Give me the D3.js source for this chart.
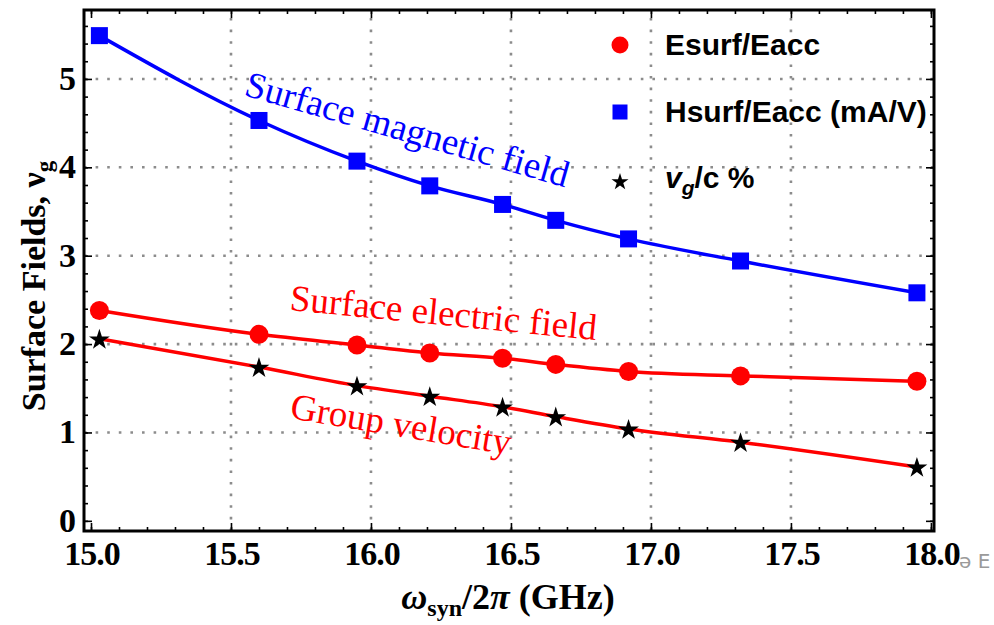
<!DOCTYPE html>
<html>
<head>
<meta charset="utf-8">
<script src="https://cdn.jsdelivr.net/npm/d3@7"></script>
<style>
  html, body { margin: 0; padding: 0; background: #fff; }
  svg { display: block; }
</style>
</head>
<body>
<div id="chart"></div>
<script>
// Data
const freq = [15.03, 15.60, 15.95, 16.21, 16.47, 16.66, 16.92, 17.32, 17.95];
const hsurf = [5.49, 4.53, 4.07, 3.79, 3.58, 3.40, 3.19, 2.94, 2.58];
const esurf = [2.38, 2.11, 1.99, 1.90, 1.84, 1.77, 1.69, 1.64, 1.58];
const vg = [2.06, 1.74, 1.53, 1.41, 1.29, 1.18, 1.04, 0.89, 0.61];

const xTicks = [15.0, 15.5, 16.0, 16.5, 17.0, 17.5, 18.0];
const yTicks = [0, 1, 2, 3, 4, 5];

const [w, h] = [994, 625];
const [padLeft, padRight, padTop, padBottom] = [84, 934, 10, 531];
const [blue, red] = ["#0000ff", "#ff0000"];

const x = d3.scaleLinear().domain([14.975, 18.011]).range([padLeft, padRight]);
const y = d3.scaleLinear().domain([-0.115, 5.78]).range([padBottom, padTop]);

const svg = d3.select("#chart")
    .append("svg")
    .attr("width", w)
    .attr("height", h);

// dotted grid
const grid = svg.append("g")
    .attr("stroke", "#8c8c8c")
    .attr("stroke-width", 2.6)
    .attr("stroke-dasharray", "2.6,9");

grid.selectAll("line.vx")
    .data(xTicks.slice(1, -1))
    .enter()
    .append("line")
    .attr("x1", d => x(d)).attr("x2", d => x(d))
    .attr("y1", padBottom).attr("y2", padTop);

grid.selectAll("line.hy")
    .data(yTicks.slice(1))
    .enter()
    .append("line")
    .attr("x1", padLeft).attr("x2", padRight)
    .attr("y1", d => y(d)).attr("y2", d => y(d));

// frame ticks on all four sides, pointing inward
const xMinor = d3.range(150, 181).map(d => d / 10);
const yMinor = d3.range(0, 29).map(d => d / 5);

function tickAxis(axis, scale, values, size) {
    return axis(scale).tickValues(values).tickSize(-size).tickFormat("");
}

svg.append("g").attr("transform", `translate(0,${padBottom})`)
    .call(tickAxis(d3.axisBottom, x, xMinor, 4));
svg.append("g").attr("transform", `translate(0,${padBottom})`)
    .call(tickAxis(d3.axisBottom, x, xTicks, 8));
svg.append("g").attr("transform", `translate(0,${padTop})`)
    .call(tickAxis(d3.axisTop, x, xMinor, 4));
svg.append("g").attr("transform", `translate(0,${padTop})`)
    .call(tickAxis(d3.axisTop, x, xTicks, 8));
svg.append("g").attr("transform", `translate(${padLeft},0)`)
    .call(tickAxis(d3.axisLeft, y, yMinor, 4));
svg.append("g").attr("transform", `translate(${padLeft},0)`)
    .call(tickAxis(d3.axisLeft, y, yTicks, 8));
svg.append("g").attr("transform", `translate(${padRight},0)`)
    .call(tickAxis(d3.axisRight, y, yMinor, 4));
svg.append("g").attr("transform", `translate(${padRight},0)`)
    .call(tickAxis(d3.axisRight, y, yTicks, 8));

svg.selectAll(".domain").remove();
svg.selectAll(".tick line").attr("stroke", "#000").attr("stroke-width", 1.6);

// frame
svg.append("rect")
    .attr("x", padLeft).attr("y", padTop)
    .attr("width", padRight - padLeft).attr("height", padBottom - padTop)
    .attr("fill", "none")
    .attr("stroke", "#000")
    .attr("stroke-width", 3);

// tick labels
svg.selectAll("text.xl")
    .data(xTicks)
    .enter()
    .append("text")
    .attr("x", d => x(d) + 1)
    .attr("y", 565)
    .attr("text-anchor", "middle")
    .style("font-family", "'Liberation Serif', serif")
    .style("font-weight", "bold")
    .style("font-size", "34px")
    .style("letter-spacing", "-1px")
    .text(d => d.toFixed(1));

svg.selectAll("text.yl")
    .data(yTicks)
    .enter()
    .append("text")
    .attr("x", 76)
    .attr("y", d => y(d) + 11)
    .attr("text-anchor", "end")
    .style("font-family", "'Liberation Serif', serif")
    .style("font-weight", "bold")
    .style("font-size", "34px")
    .text(d => d);

// axis titles
const xTitle = svg.append("text")
    .attr("x", 508)
    .attr("y", 609)
    .attr("text-anchor", "middle")
    .style("font-family", "'Liberation Serif', serif")
    .style("font-weight", "bold")
    .style("font-size", "36px");
xTitle.append("tspan").style("font-style", "italic").text("ω");
xTitle.append("tspan").attr("dy", 7).style("font-size", "24px").text("syn");
xTitle.append("tspan").attr("dy", -7).text("/2");
xTitle.append("tspan").style("font-style", "italic").text("π");
xTitle.append("tspan").text(" (GHz)");

const yTitle = svg.append("text")
    .attr("transform", "translate(45,286) rotate(-90)")
    .attr("text-anchor", "middle")
    .style("font-family", "'Liberation Serif', serif")
    .style("font-weight", "bold")
    .style("font-size", "34px");
yTitle.append("tspan").text("Surface Fields, ν");
yTitle.append("tspan").attr("dy", 7).style("font-size", "23px").text("g");

// lines
const line = vals => d3.line()
    .x((d, i) => x(freq[i]))
    .y(d => y(d))
    .curve(d3.curveMonotoneX)(vals);

svg.append("path").attr("d", line(hsurf))
    .attr("fill", "none").attr("stroke", blue).attr("stroke-width", 3.5);
svg.append("path").attr("d", line(esurf))
    .attr("fill", "none").attr("stroke", red).attr("stroke-width", 3.5);
svg.append("path").attr("d", line(vg))
    .attr("fill", "none").attr("stroke", red).attr("stroke-width", 3.5);

// markers
svg.selectAll("rect.hs")
    .data(hsurf)
    .enter()
    .append("rect")
    .attr("x", (d, i) => x(freq[i]) - 8.5)
    .attr("y", d => y(d) - 8.5)
    .attr("width", 17).attr("height", 17)
    .attr("fill", blue);

svg.selectAll("circle.es")
    .data(esurf)
    .enter()
    .append("circle")
    .attr("cx", (d, i) => x(freq[i]))
    .attr("cy", d => y(d))
    .attr("r", 9.5)
    .attr("fill", red);

const star = d3.symbol().type(d3.symbolStar);
svg.selectAll("path.vg")
    .data(vg)
    .enter()
    .append("path")
    .attr("d", star.size(135)())
    .attr("transform", (d, i) => `translate(${x(freq[i])},${y(d) + 1})`)
    .attr("fill", "#000");

// curve labels
function curveLabel(txt, px, py, angle, color) {
    svg.append("text")
        .attr("transform", `translate(${px},${py}) rotate(${angle})`)
        .style("font-family", "'Liberation Serif', serif")
        .style("font-size", "37px")
        .attr("fill", color)
        .text(txt);
}
curveLabel("Surface magnetic field", 243, 95, 16, blue);
curveLabel("Surface electric field", 289, 310, 5.6, red);
curveLabel("Group velocity", 289, 418, 9.5, red);

// legend
const legend = svg.append("g")
    .style("font-family", "'Liberation Sans', Arial, sans-serif")
    .style("font-weight", "bold")
    .style("font-size", "30px");

legend.append("circle").attr("cx", 620).attr("cy", 45).attr("r", 8.5).attr("fill", red);
legend.append("text").attr("x", 665).attr("y", 55).text("Esurf/Eacc");

legend.append("rect").attr("x", 612.5).attr("y", 104.5).attr("width", 15).attr("height", 15).attr("fill", blue);
legend.append("text").attr("x", 665).attr("y", 122).text("Hsurf/Eacc (mA/V)");

legend.append("path").attr("d", d3.symbol().type(d3.symbolStar).size(90)())
    .attr("transform", "translate(620,182)").attr("fill", "#000");
const vgText = legend.append("text").attr("x", 665).attr("y", 188);
vgText.append("tspan").style("font-style", "italic").text("v");
vgText.append("tspan").attr("dy", 7).style("font-style", "italic").style("font-size", "21px").text("g");
vgText.append("tspan").attr("dy", -7).text("/c %");

// clipped artifact text at the right edge
svg.append("text")
    .attr("x", 959).attr("y", 568)
    .attr("fill", "#9a9a9a")
    .style("font-family", "'DejaVu Sans', sans-serif")
    .style("font-size", "20px")
    .text("ə E");
</script>
</body>
</html>
